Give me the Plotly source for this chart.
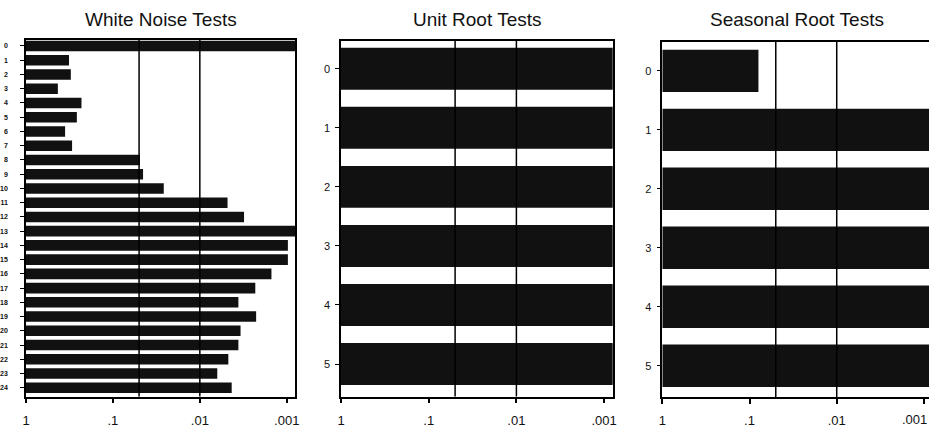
import plotly.graph_objects as go

# ---------------- data ----------------
white_noise_lags = list(range(25))
white_noise_p = [0.0002, 0.32, 0.305, 0.43, 0.23, 0.26, 0.355, 0.295, 0.049, 0.045,
                 0.026, 0.0048, 0.0031, 0.0002, 0.00097, 0.00097, 0.0015, 0.0023,
                 0.0036, 0.00225, 0.0034, 0.0036, 0.0047, 0.0063, 0.0043]

unit_root_lags = [0, 1, 2, 3, 4, 5]
unit_root_p = [0.0001, 0.0001, 0.0001, 0.0001, 0.0001, 0.0001]

seasonal_lags = [0, 1, 2, 3, 4, 5]
seasonal_p = [0.079, 0.0001, 0.0001, 0.0001, 0.0001, 0.0001]

titles = ["White Noise Tests", "Unit Root Tests", "Seasonal Root Tests"]
ref_levels = [0.05, 0.01]
x_tickvals = [1, 0.1, 0.01, 0.001]
x_ticktext = ["1", ".1", ".01", ".001"]

W, H = 929, 430
BAR = "#111111"
FONT = "Liberation Sans"

# panel geometry in pixels: (left, right, top, bottom, decades shown, y range)
panels = [
    dict(l=26, r=295, t=40, b=396.5, dec=3.095, yr=[24.61, -0.42], bw=0.74,
         lags=white_noise_lags, p=white_noise_p, yfs=7, yw="bold", mirror_y=True,
         ystand=11, cx=160.5),
    dict(l=341, r=612.7, t=40.7, b=396.5, dec=3.098, yr=[5.55, -0.475], bw=0.71,
         lags=unit_root_lags, p=unit_root_p, yfs=11, yw="normal", mirror_y=True,
         ystand=3, cx=477),
    dict(l=662.3, r=929, t=42, b=397, dec=3.058, yr=[5.53, -0.49], bw=0.72,
         lags=seasonal_lags, p=seasonal_p, yfs=11, yw="normal", mirror_y=False,
         ystand=3, cx=797),
]

fig = go.Figure()
layout = dict(
    width=W, height=H, margin=dict(l=0, r=0, t=0, b=0, autoexpand=False),
    paper_bgcolor="white", plot_bgcolor="white", showlegend=False,
    font=dict(family=FONT, color="#111111"),
)
shapes = []
annotations = []

for i, pn in enumerate(panels):
    k = "" if i == 0 else str(i + 1)
    xa, ya = "x" + k, "y" + k
    last = (i == len(panels) - 1)
    fig.add_trace(go.Bar(
        y=pn["lags"], x=[v - 1 for v in pn["p"]], base=[1] * len(pn["p"]),
        orientation="h", width=pn["bw"],
        marker=dict(color=BAR, line=dict(width=0)),
        xaxis=xa, yaxis=ya, hoverinfo="skip",
    ))
    # the last panel runs into the page edge: its ".001" label is placed as a
    # right-aligned annotation so it stays inside the picture
    ttext = x_ticktext[:-1] + [""] if last else x_ticktext
    layout["xaxis" + k] = dict(
        type="log", domain=[pn["l"] / W, min(pn["r"] / W, 1.0)],
        range=[0, -pn["dec"]], anchor=ya, automargin=False,
        tickvals=x_tickvals, ticktext=ttext,
        ticks="outside", ticklen=5, tickwidth=1.5, tickcolor="black",
        showline=True, linecolor="black", linewidth=1.5, mirror=True,
        showgrid=False, zeroline=False, ticklabeloverflow="allow",
        tickfont=dict(family=FONT, size=13, color="#111111"),
        ticklabelstandoff=6,
    )
    if last:
        annotations.append(dict(text=x_ticktext[-1], xref="paper", yref="paper",
                                x=1.0, y=(H - 419.5) / H,
                                xanchor="right", yanchor="middle", showarrow=False,
                                font=dict(family=FONT, size=13, color="#111111")))
    layout["yaxis" + k] = dict(
        domain=[(H - pn["b"]) / H, (H - pn["t"]) / H], range=pn["yr"], anchor=xa,
        automargin=False,
        tickvals=pn["lags"], ticktext=[str(v) for v in pn["lags"]],
        ticks="outside", ticklen=4, tickwidth=1.2, tickcolor="black",
        showline=True, linecolor="black", linewidth=1.5, mirror=pn["mirror_y"],
        showgrid=False, zeroline=False, ticklabeloverflow="allow",
        ticklabelstandoff=pn["ystand"],
        tickfont=dict(family=FONT, size=pn["yfs"], color="#111111", weight=pn["yw"]),
    )
    for lv in ref_levels:
        shapes.append(dict(type="line", xref=xa, yref=ya + " domain",
                           x0=lv, x1=lv, y0=0, y1=1,
                           line=dict(color="black", width=1.5), layer="above"))
    annotations.append(dict(text=titles[i], xref="paper", yref="paper",
                            x=pn["cx"] / W, y=(H - 19) / H,
                            xanchor="center", yanchor="middle", showarrow=False,
                            font=dict(family=FONT, size=19, color="#111111")))

layout["shapes"] = shapes
layout["annotations"] = annotations
fig.update_layout(**layout)
fig.write_html("out.html")
